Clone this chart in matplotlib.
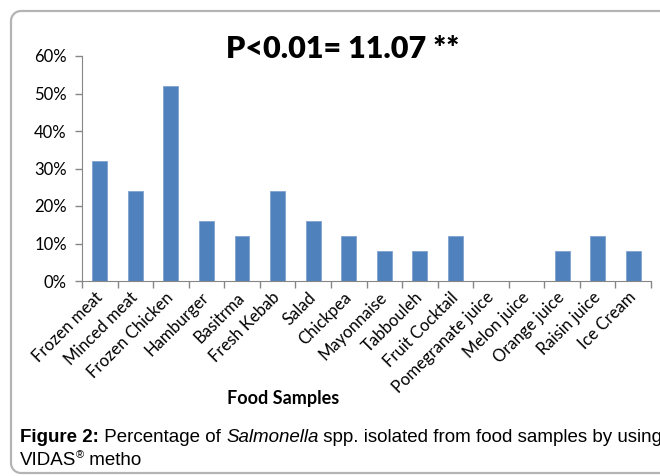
import matplotlib
matplotlib.use("Agg")
import matplotlib.pyplot as plt
import numpy as np
from matplotlib.ticker import PercentFormatter

# data
foods = ["Frozen meat", "Minced meat", "Frozen Chicken", "Hamburger", "Basitrma",
         "Fresh Kebab", "Salad", "Chickpea", "Mayonnaise", "Tabbouleh",
         "Fruit Cocktail", "Pomegranate juice", "Melon juice", "Orange juice",
         "Raisin juice", "Ice Cream"]
percent = [32, 24, 52, 16, 12, 24, 16, 12, 8, 8, 12, 0, 0, 8, 12, 8]
yticks = [0, 10, 20, 30, 40, 50, 60]

W, H = 660, 476
fig = plt.figure(figsize=(W / 100, H / 100), dpi=100)
fig.patch.set_facecolor("white")

ax = fig.add_axes([82 / W, 1 - 281 / H, (651 - 82) / W, (281 - 56) / H])
x = np.arange(len(foods))
ax.bar(x, percent, width=0.42, color="#4F81BD", edgecolor="#7FA3D0", linewidth=0.6)

ax.set_xlim(-0.5, len(foods) - 0.5)
ax.set_ylim(0, 60)
ax.set_yticks(yticks)
ax.yaxis.set_major_formatter(PercentFormatter(decimals=0))
ax.set_xticks(np.arange(len(foods) + 1) - 0.5, minor=False)
ax.set_xticklabels([])
ax.set_xticks(x, minor=True)
ax.set_xticklabels(foods, minor=True, rotation=45, ha="right", va="center",
                   rotation_mode="anchor", fontsize=12, family="Lato")
ax.tick_params(axis="x", which="minor", length=0, pad=10)
ax.tick_params(axis="x", which="major", length=5, color="#868686", width=1)
ax.tick_params(axis="y", length=5, color="#868686", width=1, labelsize=12, pad=6)
for lab in ax.get_yticklabels():
    lab.set_family("Lato")

for s in ["top", "right"]:
    ax.spines[s].set_visible(False)
for s in ["left", "bottom"]:
    ax.spines[s].set_color("#868686")

# rounded frame: top, left and bottom edges, drawn in figure pixels
r = 10
left, top, bottom, right = 11, 11, 473, 700
t1 = np.linspace(np.pi, 1.5 * np.pi, 20)
t2 = np.linspace(0.5 * np.pi, np.pi, 20)
fx = np.concatenate([[right], left + r + r * np.cos(t1[::-1]),
                     left + r + r * np.cos(t2[::-1]), [right]])
fy = np.concatenate([[top], top + r + r * np.sin(t1[::-1]),
                     bottom - r + r * np.sin(t2[::-1]), [bottom]])
frame = plt.Line2D(fx / W, 1 - fy / H, color="#B4B4B4", linewidth=1.6,
                   transform=fig.transFigure, zorder=10)
fig.add_artist(frame)

fig.text(343 / W, 1 - 58 / H, "P<0.01= 11.07 **", ha="center", va="baseline",
         fontsize=22, fontweight="heavy", family="Lato")
fig.text(283 / W, 1 - 404 / H, "Food Samples", ha="center", va="baseline",
         fontsize=13, fontweight="bold", family="Lato")

# caption with mixed styles
renderer = fig.canvas.get_renderer()
cap = "Liberation Sans"
xpos = 20
parts = [("Figure 2:", "bold", "normal"), (" Percentage of ", "normal", "normal"),
         ("Salmonella", "normal", "italic"),
         (" spp. isolated from food samples by using", "normal", "normal")]
for txt, wt, st in parts:
    t = fig.text(xpos / W, 1 - 442 / H, txt, ha="left", va="baseline", fontsize=13.5,
                 fontweight=wt, style=st, family=cap)
    xpos += t.get_window_extent(renderer).width
t = fig.text(20 / W, 1 - 465 / H, "VIDAS", ha="left", va="baseline",
             fontsize=13.5, family=cap)
xpos = 20 + t.get_window_extent(renderer).width
t = fig.text(xpos / W, 1 - 458 / H, "®", ha="left", va="baseline",
             fontsize=8, family=cap)
xpos += t.get_window_extent(renderer).width
fig.text(xpos / W, 1 - 465 / H, " metho", ha="left", va="baseline",
         fontsize=13.5, family=cap)

fig.savefig("out.png", dpi=100)
